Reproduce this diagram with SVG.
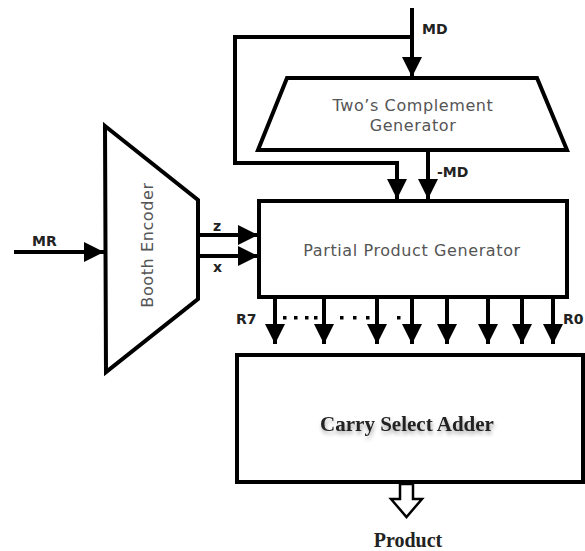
<svg xmlns="http://www.w3.org/2000/svg" width="585" height="551" viewBox="0 0 585 551">
  <defs>
    <marker id="arrow" viewBox="0 0 10 10" refX="10" refY="5" markerWidth="5" markerHeight="5" markerUnits="strokeWidth" orient="auto">
      <path d="M0,0 L10,5 L0,10 Z" fill="#000"/>
    </marker>
    <filter id="soft" x="-10%" y="-30%" width="120%" height="180%">
      <feGaussianBlur in="SourceAlpha" stdDeviation="2"/>
      <feOffset dx="1" dy="3"/>
      <feComponentTransfer><feFuncA type="linear" slope="0.35"/></feComponentTransfer>
      <feMerge><feMergeNode/><feMergeNode in="SourceGraphic"/></feMerge>
    </filter>
  </defs>
  <style>
    .block { fill: #fff; stroke: #000; stroke-width: 4; stroke-linejoin: miter; }
    .wire { fill: none; stroke: #000; stroke-width: 4; }
    .sig { font-family: "DejaVu Sans", "Liberation Sans", sans-serif; font-weight: bold; font-size: 14px; fill: #222; }
    .gothic { font-family: "DejaVu Sans", "Liberation Sans", sans-serif; font-size: 16px; letter-spacing: 0.6px; fill: #555; }
    .serif { font-family: "Liberation Serif", "Times New Roman", serif; font-weight: bold; fill: #222; }
    .dot { fill: #000; }
  </style>
  <rect width="585" height="551" fill="#fff"/>

  <!-- Booth encoder -->
  <g id="booth-encoder">
    <polygon class="block" points="105,126 198,200 198,299 106,372"/>
    <text class="gothic" transform="translate(153,245) rotate(-90)" text-anchor="middle" font-size="13" letter-spacing="0">Booth Encoder</text>
  </g>

  <!-- Two's complement generator -->
  <g id="twos-complement">
    <polygon class="block" points="287,78 537,78 567,150 258,150"/>
    <text class="gothic" x="413" y="111" text-anchor="middle">Two’s Complement</text>
    <text class="gothic" x="413" y="131" text-anchor="middle">Generator</text>
  </g>

  <!-- Partial product generator -->
  <g id="partial-product">
    <rect class="block" x="259" y="201" width="308" height="96"/>
    <text class="gothic" x="412" y="256" text-anchor="middle" font-size="17">Partial Product Generator</text>
  </g>

  <!-- Carry select adder -->
  <g id="carry-select">
    <rect class="block" x="237" y="355" width="346" height="127"/>
    <text class="serif" x="407" y="431" text-anchor="middle" font-size="21" filter="url(#soft)">Carry Select Adder</text>
  </g>

  <!-- Connectors -->
  <g id="connectors">
    <!-- MD input and its bypass to the partial product generator -->
    <line class="wire" x1="412" y1="8" x2="412" y2="77" marker-end="url(#arrow)"/>
    <polyline class="wire" points="412,37 235,37 235,163 397,163 397,199" marker-end="url(#arrow)"/>
    <!-- -MD -->
    <line class="wire" x1="428" y1="150" x2="428" y2="199" marker-end="url(#arrow)"/>
    <!-- MR -->
    <line class="wire" x1="14" y1="252" x2="104" y2="252" marker-end="url(#arrow)"/>
    <!-- z and x -->
    <line class="wire" x1="198" y1="235" x2="258" y2="235" marker-end="url(#arrow)"/>
    <line class="wire" x1="198" y1="256" x2="258" y2="256" marker-end="url(#arrow)"/>
    <!-- partial products R7..R0 -->
    <line class="wire" x1="275" y1="297" x2="275" y2="344" marker-end="url(#arrow)"/>
    <line class="wire" x1="324" y1="297" x2="324" y2="344" marker-end="url(#arrow)"/>
    <line class="wire" x1="377" y1="297" x2="377" y2="344" marker-end="url(#arrow)"/>
    <line class="wire" x1="412" y1="297" x2="412" y2="344" marker-end="url(#arrow)"/>
    <line class="wire" x1="447" y1="297" x2="447" y2="344" marker-end="url(#arrow)"/>
    <line class="wire" x1="488" y1="297" x2="488" y2="344" marker-end="url(#arrow)"/>
    <line class="wire" x1="522" y1="297" x2="522" y2="344" marker-end="url(#arrow)"/>
    <line class="wire" x1="553" y1="297" x2="553" y2="344" marker-end="url(#arrow)"/>
    <!-- elided bit lines -->
    <rect class="dot" x="283" y="316" width="3.5" height="3.5"/>
    <rect class="dot" x="294" y="316" width="3.5" height="3.5"/>
    <rect class="dot" x="305" y="316" width="3.5" height="3.5"/>
    <rect class="dot" x="314" y="316" width="3.5" height="3.5"/>
    <rect class="dot" x="340" y="316" width="3.5" height="3.5"/>
    <rect class="dot" x="353" y="316" width="3.5" height="3.5"/>
    <rect class="dot" x="366" y="316" width="3.5" height="3.5"/>
    <rect class="dot" x="397" y="316" width="3.5" height="3.5"/>
    <!-- product output (hollow arrow) -->
    <path d="M400,484 L413,484 L413,499 L422,499 L406.5,517 L391,499 L400,499 Z" fill="#fff" stroke="#000" stroke-width="2.5" stroke-linejoin="miter"/>
  </g>

  <!-- Signal labels -->
  <g id="labels">
    <text class="sig" x="422" y="34">MD</text>
    <text class="sig" x="437" y="177">-MD</text>
    <text class="sig" x="32" y="246">MR</text>
    <text class="sig" x="213" y="231" font-size="13">z</text>
    <text class="sig" x="213" y="272" font-size="13">x</text>
    <text class="sig" x="236" y="324" font-size="15">R7</text>
    <text class="sig" x="563" y="324" font-size="15">R0</text>
    <text class="serif" x="408" y="547" text-anchor="middle" font-size="20">Product</text>
  </g>
</svg>
